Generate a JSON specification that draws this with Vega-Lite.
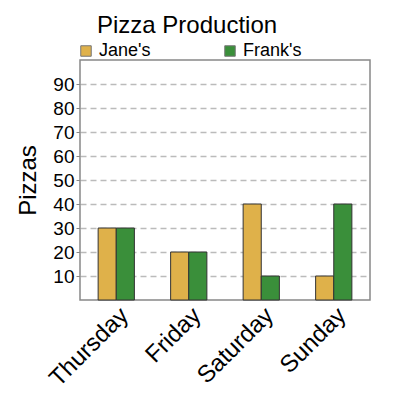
{
  "$schema": "https://vega.github.io/schema/vega-lite/v6.json",
  "width": 290,
  "height": 240,
  "autosize": "none",
  "padding": {"left": 80, "top": 60, "right": 30, "bottom": 100},
  "data": {
    "values": [
      {"day": "Thursday", "cook": "Jane's", "pizzas": 30},
      {"day": "Thursday", "cook": "Frank's", "pizzas": 30},
      {"day": "Friday", "cook": "Jane's", "pizzas": 20},
      {"day": "Friday", "cook": "Frank's", "pizzas": 20},
      {"day": "Saturday", "cook": "Jane's", "pizzas": 40},
      {"day": "Saturday", "cook": "Frank's", "pizzas": 10},
      {"day": "Sunday", "cook": "Jane's", "pizzas": 10},
      {"day": "Sunday", "cook": "Frank's", "pizzas": 40}
    ]
  },
  "title": {
    "text": "Pizza Production",
    "fontSize": 24,
    "fontWeight": "normal",
    "font": "Liberation Sans",
    "color": "#000",
    "anchor": "start",
    "frame": "group",
    "dx": 17,
    "baseline": "alphabetic",
    "offset": -15
  },
  "config": {
    "font": "Liberation Sans",
    "view": {"stroke": "#888", "strokeWidth": 1.5}
  },
  "mark": {"type": "bar", "stroke": "#333", "strokeWidth": 1},
  "encoding": {
    "x": {
      "field": "day",
      "type": "nominal",
      "sort": ["Thursday", "Friday", "Saturday", "Sunday"],
      "scale": {"paddingInner": 0.5, "paddingOuter": 0.25},
      "axis": {
        "title": null,
        "labelAngle": -45,
        "labelFontSize": 24,
        "labelColor": "#000",
        "ticks": false,
        "domain": false,
        "labelPadding": 3
      }
    },
    "xOffset": {
      "field": "cook",
      "type": "nominal",
      "sort": ["Jane's", "Frank's"]
    },
    "y": {
      "field": "pizzas",
      "type": "quantitative",
      "scale": {"domain": [0, 100], "nice": false},
      "axis": {
        "title": "Pizzas",
        "titleFontSize": 24,
        "titleFontWeight": "normal",
        "titleColor": "#000",
        "titlePadding": 12,
        "values": [10, 20, 30, 40, 50, 60, 70, 80, 90],
        "labelFontSize": 19,
        "labelColor": "#000",
        "labelPadding": 2,
        "tickSize": 4,
        "tickColor": "#888",
        "domain": false,
        "grid": true,
        "gridDash": [6, 4],
        "gridColor": "#bbb",
        "gridWidth": 1.5
      }
    },
    "color": {
      "field": "cook",
      "type": "nominal",
      "sort": ["Jane's", "Frank's"],
      "scale": {"domain": ["Jane's", "Frank's"], "range": ["#dfb14a", "#3a8f3a"]},
      "legend": {
        "title": null,
        "orient": "none",
        "legendX": -3,
        "legendY": -18,
        "direction": "horizontal",
        "columns": 2,
        "columnPadding": 70,
        "symbolType": "square",
        "symbolSize": 110,
        "symbolStrokeColor": "#777",
        "symbolStrokeWidth": 1,
        "symbolOpacity": 1,
        "labelFontSize": 18,
        "labelColor": "#000",
        "labelOffset": 4
      }
    }
  }
}
